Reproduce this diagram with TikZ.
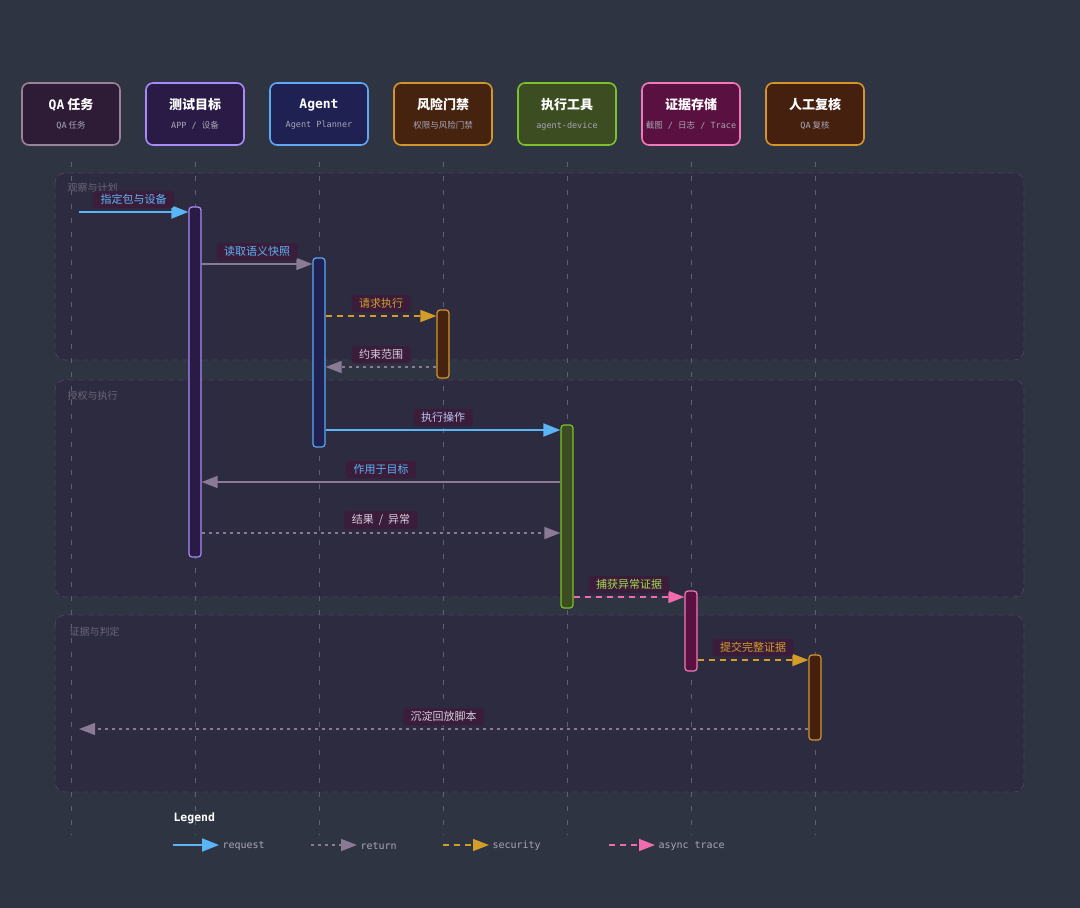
\documentclass[tikz,border=0pt]{standalone}
\usepackage{fontspec}
\setmainfont{Noto Sans CJK SC}
\setmonofont{DejaVu Sans Mono}
\usepackage{xcolor}
\usetikzlibrary{positioning,arrows.meta}

\definecolor{bgdark}{HTML}{2F3443}
\definecolor{groupfill}{HTML}{2C2B40}
\definecolor{groupline}{HTML}{4E3F5E}
\definecolor{grouptext}{HTML}{6E6679}
\definecolor{lifegray}{HTML}{5C6273}
\definecolor{subgray}{HTML}{A9A6B6}
\definecolor{msgfill}{HTML}{3A1D3A}
\definecolor{reqblue}{HTML}{5AB4F5}
\definecolor{retgray}{HTML}{8A7A96}
\definecolor{secgold}{HTML}{D49D2A}
\definecolor{asyncpink}{HTML}{F06AAE}
\definecolor{lighttext}{HTML}{D6CCDC}
\definecolor{lavtext}{HTML}{B9C6F2}
\definecolor{greentext}{HTML}{A6D94C}
% participant colours
\definecolor{qafill}{HTML}{2E1B36}\definecolor{qaline}{HTML}{9A8298}
\definecolor{tgfill}{HTML}{2A1B46}\definecolor{tgline}{HTML}{A78BFA}
\definecolor{agfill}{HTML}{1F2152}\definecolor{agline}{HTML}{5FA8F5}
\definecolor{rgfill}{HTML}{45230F}\definecolor{rgline}{HTML}{D4952B}
\definecolor{exfill}{HTML}{3C4D22}\definecolor{exline}{HTML}{7CC22A}
\definecolor{evfill}{HTML}{5A1040}\definecolor{evline}{HTML}{F07AB8}
\definecolor{hrfill}{HTML}{45200F}\definecolor{hrline}{HTML}{D4952B}

\newcommand{\headtitle}{\fontsize{13}{15}\selectfont\bfseries}
\newcommand{\headsub}{\fontsize{8.5}{10}\selectfont\color{subgray}}

\begin{document}
\begin{tikzpicture}[
    x=1pt, y=-1pt,
    node distance=24.4pt,
    head/.style={rectangle, rounded corners=7pt, line width=1.6pt, minimum width=98pt, minimum height=62pt, align=center, text=white, inner sep=2pt},
    actbar/.style={rectangle, rounded corners=3pt, line width=1.2pt, minimum width=12pt, inner sep=0pt},
    group/.style={draw=groupline, fill=groupfill, dash pattern=on 6pt off 4pt, line width=0.8pt, rounded corners=10pt},
    grouplabel/.style={anchor=west, text=grouptext, font=\fontsize{10}{12}\selectfont},
    lifeline/.style={draw=lifegray, line width=1pt, dash pattern=on 5pt off 9pt},
    msg/.style={fill=msgfill, rounded corners=3pt, inner xsep=7.5pt, inner ysep=3.5pt, font=\fontsize{11}{13}\selectfont},
    request/.style={draw=reqblue, line width=2pt, -{Triangle[length=17pt, width=13pt, fill=reqblue]}},
    call/.style={draw=retgray, line width=1.3pt, -{Triangle[length=16pt, width=12pt, fill=retgray]}},
    return/.style={draw=retgray, line width=1.3pt, dash pattern=on 3pt off 4pt, -{Triangle[length=16pt, width=12pt, fill=retgray]}},
    security/.style={draw=secgold, line width=1.5pt, dash pattern=on 6pt off 5pt, -{Triangle[length=16pt, width=12pt, fill=secgold]}},
    async/.style={draw=asyncpink, line width=1.5pt, dash pattern=on 6pt off 5pt, -{Triangle[length=16pt, width=12pt, fill=asyncpink]}},
    legendtext/.style={anchor=west, text=subgray, font=\ttfamily\fontsize{10}{12}\selectfont}
]

\fill[bgdark] (0,0) rectangle (1080,908);
\useasboundingbox (0,0) rectangle (1080,908);

% Groups
\draw[group] (55,173) rectangle (1024,360);
\draw[group] (55,380) rectangle (1024,597);
\draw[group] (55,615) rectangle (1024,792);

% Participants
\node[head, draw=qaline, fill=qafill] (qa) at (71,114) {{\headtitle\texttt{QA} 任务}\\[7pt]{\headsub\texttt{QA} 任务}};
\node[head, draw=tgline, fill=tgfill, right=of qa] (tg) {{\headtitle 测试目标}\\[7pt]{\headsub\texttt{APP / }设备}};
\node[head, draw=agline, fill=agfill, right=of tg] (ag) {{\headtitle\texttt{Agent}}\\[7pt]{\headsub\texttt{Agent Planner}}};
\node[head, draw=rgline, fill=rgfill, right=of ag] (rg) {{\headtitle 风险门禁}\\[7pt]{\headsub 权限与风险门禁}};
\node[head, draw=exline, fill=exfill, right=of rg] (ex) {{\headtitle 执行工具}\\[7pt]{\headsub\texttt{agent-device}}};
\node[head, draw=evline, fill=evfill, right=of ex] (ev) {{\headtitle 证据存储}\\[7pt]{\headsub 截图\texttt{ / }日志\texttt{ / Trace}}};
\node[head, draw=hrline, fill=hrfill, right=of ev] (hr) {{\headtitle 人工复核}\\[7pt]{\headsub\texttt{QA} 复核}};

% Lifelines
\coordinate (lineend) at (0,835);
\draw[lifeline] ([yshift=-16pt]qa.south) -- (qa.south |- lineend);
\draw[lifeline] ([yshift=-16pt]tg.south) -- (tg.south |- lineend);
\draw[lifeline] ([yshift=-16pt]ag.south) -- (ag.south |- lineend);
\draw[lifeline] ([yshift=-16pt]rg.south) -- (rg.south |- lineend);
\draw[lifeline] ([yshift=-16pt]ex.south) -- (ex.south |- lineend);
\draw[lifeline] ([yshift=-16pt]ev.south) -- (ev.south |- lineend);
\draw[lifeline] ([yshift=-16pt]hr.south) -- (hr.south |- lineend);

\node[grouplabel] (g1) at (64,188) {观察与计划};
\node[grouplabel] (g2) at (64,396) {授权与执行};
\node[grouplabel] (g3) at (66,632) {证据与判定};

% Activation bars
\node[actbar, draw=tgline, fill=tgfill, minimum height=350pt] (tgbar) at (195,382) {};
\node[actbar, draw=agline, fill=agfill, minimum height=189pt] (agbar) at (319,352.5) {};
\node[actbar, draw=rgline, fill=rgfill, minimum height=68pt] (rgbar) at (443,344) {};
\node[actbar, draw=exline, fill=exfill, minimum height=183pt] (exbar) at (567,516.5) {};
\node[actbar, draw=evline, fill=evfill, minimum height=80pt] (evbar) at (691,631) {};
\node[actbar, draw=hrline, fill=hrfill, minimum height=85pt] (hrbar) at (815,697.5) {};

% Messages
\coordinate (m1) at (79,212);
\coordinate (m2) at (0,264);
\coordinate (m3) at (0,316);
\coordinate (m4) at (0,367);
\coordinate (m5) at (0,430);
\coordinate (m6) at (0,482);
\coordinate (m7) at (0,533);
\coordinate (m8) at (0,597);
\coordinate (m9) at (0,660);
\coordinate (m10) at (79,729);

\draw[request] (m1) -- (m1 -| tgbar.west) node[msg, text=reqblue, midway, above=3pt] {指定包与设备};
\draw[call] (tgbar.east |- m2) -- (agbar.west |- m2) node[msg, text=reqblue, midway, above=3pt] {读取语义快照};
\draw[security] (agbar.east |- m3) -- (rgbar.west |- m3) node[msg, text=secgold, midway, above=3pt] {请求执行};
\draw[return] (rgbar.west |- m4) -- (agbar.east |- m4) node[msg, text=lighttext, midway, above=3pt] {约束范围};
\draw[request] (agbar.east |- m5) -- (exbar.west |- m5) node[msg, text=lavtext, midway, above=3pt] {执行操作};
\draw[call] (exbar.west |- m6) -- (tgbar.east |- m6) node[msg, text=reqblue, midway, above=3pt] {作用于目标};
\draw[return] (tgbar.east |- m7) -- (exbar.west |- m7) node[msg, text=lighttext, midway, above=3pt] {结果\ \ /\ \ 异常};
\draw[async] (exbar.east |- m8) -- (evbar.west |- m8) node[msg, text=greentext, midway, above=3pt] {捕获异常证据};
\draw[security] (evbar.east |- m9) -- (hrbar.west |- m9) node[msg, text=secgold, midway, above=3pt] {提交完整证据};
\draw[return] (hrbar.west |- m10) -- (m10) node[msg, text=lighttext, midway, above=3pt] {沉淀回放脚本};

% Legend
\node[anchor=west, text=white, font=\ttfamily\bfseries\fontsize{11.5}{13}\selectfont] (legend) at (170,818) {Legend};
\node[legendtext] (lgreq) at (219,846) {request};
\node[legendtext] (lgret) at (357,846) {return};
\node[legendtext] (lgsec) at (489,846) {security};
\node[legendtext] (lgasy) at (655,846) {async trace};
\coordinate (lg1) at (173,845);
\coordinate (lg2) at (311,845);
\coordinate (lg3) at (443,845);
\coordinate (lg4) at (609,845);
\draw[request] (lg1) -- (lgreq.west |- lg1);
\draw[return] (lg2) -- (lgret.west |- lg2);
\draw[security] (lg3) -- (lgsec.west |- lg3);
\draw[async] (lg4) -- (lgasy.west |- lg4);

\end{tikzpicture}
\end{document}
